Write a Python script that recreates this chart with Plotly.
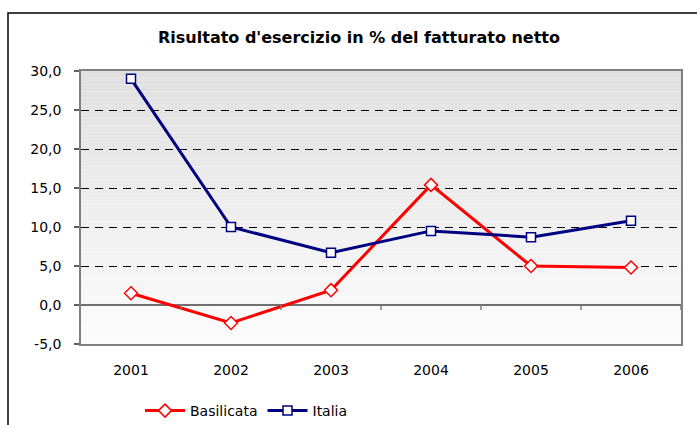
import plotly.graph_objects as go

years = ["2001", "2002", "2003", "2004", "2005", "2006"]
basilicata = [1.5, -2.3, 1.9, 15.4, 5.0, 4.8]
italia = [29.0, 10.0, 6.7, 9.5, 8.7, 10.8]
y_tick_values = [-5, 0, 5, 10, 15, 20, 25, 30]
y_tick_labels = ["-5,0", "0,0", "5,0", "10,0", "15,0", "20,0", "25,0", "30,0"]
title_text = "Risultato d'esercizio in % del fatturato netto"

FONT = "DejaVu Sans, Verdana, sans-serif"

fig = go.Figure()
fig.add_trace(go.Scatter(
    x=years, y=basilicata, name="Basilicata", mode="lines+markers",
    line=dict(color="#FF0000", width=3),
    marker=dict(symbol="diamond", size=10, color="white",
                line=dict(color="#FF0000", width=1.5)),
))
fig.add_trace(go.Scatter(
    x=years, y=italia, name="Italia", mode="lines+markers",
    line=dict(color="#000080", width=3),
    marker=dict(symbol="square", size=9, color="white",
                line=dict(color="#000080", width=1.5)),
))

shapes = []
# gradient plot background
n = 40
top = (224, 224, 224)
bot = (252, 252, 252)
for i in range(n):
    t = i / (n - 1)
    c = tuple(round(top[k] + (bot[k] - top[k]) * t) for k in range(3))
    shapes.append(dict(type="rect", xref="x domain", yref="y domain",
                       x0=0, x1=1, y0=1 - (i + 1) / n, y1=1 - i / n,
                       fillcolor="rgb(%d,%d,%d)" % c, line=dict(width=0),
                       layer="below"))
# tick marks on the category axis at zero line
for i in range(len(years)):
    shapes.append(dict(type="line", xref="x", yref="y", x0=i + 0.5, x1=i + 0.5,
                       ysizemode="pixel", yanchor=0, y0=0, y1=-5,
                       line=dict(color="#808080", width=1.5)))
# outer chart frame
shapes.append(dict(type="rect", xref="paper", yref="paper",
                   x0=(8 - 81) / 600, x1=(700 - 81) / 600,
                   y0=(344 - 440) / 273, y1=(344 - 13) / 273,
                   line=dict(color="black", width=1.5), fillcolor="rgba(0,0,0,0)"))

fig.update_layout(
    width=697, height=425,
    margin=dict(l=81, r=16, t=71, b=81, autoexpand=False),
    paper_bgcolor="white", plot_bgcolor="rgba(0,0,0,0)",
    separators=",.",
    font=dict(family=FONT, size=14, color="black"),
    title=dict(text="<b>" + title_text + "</b>", x=(359) / 697, xanchor="center",
               y=1 - 37 / 425, yanchor="middle",
               font=dict(family=FONT, size=16, color="black")),
    shapes=shapes,
    showlegend=True,
    legend=dict(orientation="h", x=(140 - 81) / 600, xanchor="left",
                y=(344 - 411) / 273, yanchor="middle",
                font=dict(family=FONT, size=14), bgcolor="rgba(0,0,0,0)",
                itemwidth=40, tracegroupgap=0),
)
fig.update_xaxes(
    type="category", range=[-0.5, 5.5], showgrid=False,
    showline=True, linecolor="#808080", linewidth=1.5, mirror=True,
    ticks="", ticklabelstandoff=12, tickfont=dict(size=14),
)
fig.update_yaxes(
    range=[-5, 30], tickmode="array", tickvals=y_tick_values, ticktext=y_tick_labels,
    showgrid=True, gridcolor="black", gridwidth=1, griddash="8px,6px",
    zeroline=True, zerolinecolor="#707070", zerolinewidth=1.5,
    showline=True, linecolor="#808080", linewidth=1.5, mirror=True,
    ticks="outside", ticklen=5, tickcolor="#606060", tickwidth=1.5,
    ticklabelstandoff=10, tickfont=dict(size=14),
)

fig.write_html("out.html", config={"displayModeBar": False},
               post_script="document.body.style.margin='0';")
